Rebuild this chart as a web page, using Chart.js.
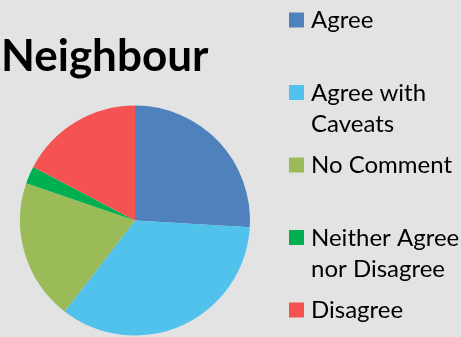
<!DOCTYPE html>
<html>
<head>
<meta charset="utf-8">
<script src="https://cdn.jsdelivr.net/npm/chart.js@4"></script>
<style>
  html, body { margin: 0; padding: 0; background: #e3e3e3; }
  #chart { display: block; }
</style>
</head>
<body>
<canvas id="chart" width="461" height="337"></canvas>
<script>
// chart data
const title = 'Neighbour';
const categories = ['Agree', ['Agree with', 'Caveats'], 'No Comment', ['Neither Agree', 'nor Disagree'], 'Disagree'];
const responses = [21, 28, 16, 2, 14];
const colours = ['#4f81bd', '#50c2ec', '#9bbb59', '#00b050', '#f55352'];

const fontFamily = 'Lato, "Open Sans", sans-serif';

// title + legend drawn by hand so the wrapped labels sit like the original
const sideText = {
    id: 'sideText',
    afterDraw(chart) {
        const ctx = chart.ctx;
        ctx.save();
        ctx.fillStyle = '#000';
        ctx.textBaseline = 'alphabetic';
        ctx.font = 'bold 44px ' + fontFamily;
        ctx.fillText(title, 1, 71);

        ctx.font = '24px ' + fontFamily;
        ctx.textBaseline = 'middle';
        const labels = chart.data.labels;
        const bg = chart.data.datasets[0].backgroundColor;
        labels.forEach((lab, i) => {
            const y = 19.5 + i * 72.5;
            ctx.fillStyle = bg[i];
            ctx.fillRect(289, y - 7, 15, 15);
            ctx.fillStyle = '#000';
            const lines = Array.isArray(lab) ? lab : [lab];
            lines.forEach((ln, j) => ctx.fillText(ln, 311, y + 1 + j * 31));
        });
        ctx.restore();
    }
};

const ctx = document.getElementById('chart');
new Chart(ctx, {
    type: 'pie',
    data: {
        labels: categories,
        datasets: [{
            data: responses,
            backgroundColor: colours,
            borderWidth: 0
        }]
    },
    options: {
        responsive: false,
        animation: false,
        layout: { padding: { left: 20, right: 211, top: 105, bottom: 1 } },
        plugins: {
            legend: { display: false },
            title: { display: false },
            tooltip: { enabled: false }
        }
    },
    plugins: [sideText]
});
</script>
</body>
</html>
